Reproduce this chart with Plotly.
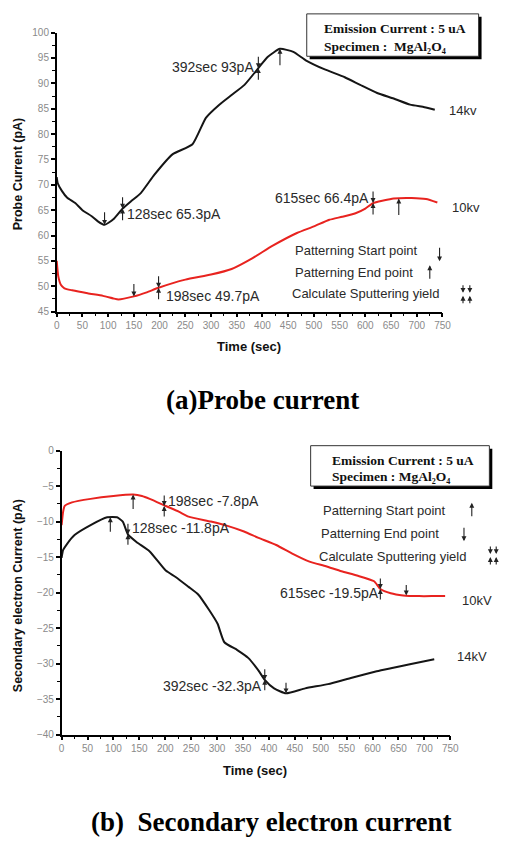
import plotly.graph_objects as go

W, H = 514, 846

# ---------------- data ----------------
# (a) Probe current
t_a14 = [0, 2, 10, 20, 36, 50, 68, 80, 93, 110, 128, 145, 163, 190, 225, 264, 290, 315,
         340, 365, 392, 410, 434, 460, 485, 520, 560, 590, 623, 655, 687, 715, 735]
v_a14 = [71.5, 70.3, 68.8, 67.5, 66.4, 65.0, 63.8, 62.8, 62.1, 63.2, 65.3, 66.8, 68.3, 72.0,
         76.0, 78.0, 83.2, 85.7, 87.7, 89.7, 93.0, 95.2, 96.8, 96.2, 94.5, 92.8, 91.2, 89.7,
         88.1, 87.0, 85.8, 85.3, 84.8]
t_a10 = [0, 3, 8, 15, 30, 60, 90, 110, 120, 150, 175, 198, 250, 300, 340, 380, 420, 467,
         500, 530, 555, 581, 600, 615, 635, 655, 690, 718, 740]
v_a10 = [55.0, 52.0, 50.3, 49.6, 49.2, 48.6, 48.1, 47.6, 47.4, 48.0, 48.8, 49.7, 51.3, 52.3,
         53.4, 55.5, 58.0, 60.5, 61.8, 63.1, 63.7, 64.4, 65.3, 66.4, 66.9, 67.3, 67.4, 67.2, 66.5]

# (b) Secondary electron current
t_b14 = [0, 3, 10, 25, 56, 88, 107, 118, 128, 145, 170, 201, 220, 245, 264, 285, 301, 314,
         339, 360, 380, 392, 410, 433, 470, 514, 560, 608, 640, 672, 719]
v_b14 = [-15.1, -14.0, -13.2, -11.9, -10.5, -9.4, -9.4, -10.0, -11.8, -12.9, -14.2, -16.9,
         -17.8, -19.2, -20.3, -22.5, -24.4, -27.0, -28.1, -29.2, -31.0, -32.3, -33.5, -34.2,
         -33.5, -32.9, -32.0, -31.1, -30.6, -30.1, -29.4]
t_b10 = [0, 3, 6, 20, 56, 100, 138, 155, 170, 201, 226, 245, 288, 320, 352, 380, 414, 445,
         477, 510, 540, 570, 603, 615, 635, 659, 690, 720, 740]
v_b10 = [-10.5, -8.6, -7.8, -7.3, -6.8, -6.4, -6.2, -6.4, -6.8, -7.8, -8.6, -9.3, -10.0,
         -10.6, -11.4, -12.3, -13.3, -14.5, -15.6, -16.3, -17.0, -17.6, -18.4, -19.5, -20.1,
         -20.4, -20.5, -20.5, -20.5]

# marker points: (time, value)
a_start = [(93, 62.1), (150, 48.0)]          # down arrows (patterning start)
a_end = [(434, 96.8), (665, 67.3)]           # up arrows (patterning end)
a_calc = [(128, 65.3), (392, 93.0), (198, 49.7), (615, 66.4)]
b_start = [(94, -9.4), (138, -6.2)]          # up arrows
b_end = [(433, -34.2), (665, -20.4)]         # down arrows
b_calc = [(128, -11.8), (392, -32.3), (198, -7.8), (615, -19.5)]

x_ticks = list(range(0, 751, 50))
ya_ticks = list(range(45, 101, 5))
yb_ticks = list(range(-40, 1, 5))

BLACK = "#151515"
RED = "#e8231f"
SANS = "Arial, Liberation Sans, sans-serif"
SERIF = "Times New Roman, Liberation Serif, serif"


def P(x, y):
    return x / W, 1 - y / H


fig = go.Figure()
LS = dict(width=2, shape="spline", smoothing=0.5)
fig.add_trace(go.Scatter(x=t_a14, y=v_a14, mode="lines", line=dict(color=BLACK, **LS),
                         xaxis="x", yaxis="y", name="14kv"))
fig.add_trace(go.Scatter(x=t_a10, y=v_a10, mode="lines", line=dict(color=RED, **LS),
                         xaxis="x", yaxis="y", name="10kv"))
fig.add_trace(go.Scatter(x=t_b10, y=v_b10, mode="lines", line=dict(color=RED, **LS),
                         xaxis="x2", yaxis="y2", name="10kV"))
fig.add_trace(go.Scatter(x=t_b14, y=v_b14, mode="lines", line=dict(color=BLACK, **LS),
                         xaxis="x2", yaxis="y2", name="14kV"))

ax_common = dict(showline=True, linecolor="black", linewidth=1.5, ticks="outside",
                 ticklen=4, tickwidth=1.5, tickcolor="black", showgrid=False, zeroline=False,
                 mirror=False, tickfont=dict(family=SANS, size=10, color="#8a8a8a"))

fig.update_layout(
    width=W, height=H, margin=dict(l=0, r=0, t=0, b=0),
    paper_bgcolor="white", plot_bgcolor="white", showlegend=False,
    xaxis=dict(domain=[55 / W, 450 / W], range=[0, 750], tickvals=x_ticks, anchor="y",
               minor=dict(ticks="outside", dtick=25, ticklen=2.5, tickwidth=1.2, tickcolor="black"),
               **ax_common),
    yaxis=dict(domain=[1 - 310 / H, 1 - 27 / H], range=[45, 100], tickvals=ya_ticks, anchor="x",
               minor=dict(ticks="outside", dtick=2.5, ticklen=2.5, tickwidth=1.2, tickcolor="black"),
               **ax_common),
    xaxis2=dict(domain=[60 / W, 458 / W], range=[0, 750], tickvals=x_ticks, anchor="y2",
                minor=dict(ticks="outside", dtick=25, ticklen=2.5, tickwidth=1.2, tickcolor="black"),
                **ax_common),
    yaxis2=dict(domain=[1 - 739 / H, 1 - 451 / H], range=[-40, 0], tickvals=yb_ticks, anchor="x2",
                minor=dict(ticks="outside", dtick=2.5, ticklen=2.5, tickwidth=1.2, tickcolor="black"),
                **ax_common),
)

ann = []


def text(x, y, s, size=12.5, color="#2a2a2a", family=SANS, xanchor="left", bold=False, angle=0):
    px, py = P(x, y)
    ann.append(dict(x=px, y=py, xref="paper", yref="paper", text=("<b>%s</b>" % s) if bold else s,
                    showarrow=False, xanchor=xanchor, yanchor="middle", textangle=angle,
                    font=dict(family=family, size=size, color=color)))


def darrow(xr, yr, t, v, direction, length=14):
    # head at the data point, tail above (down arrow) or below (up arrow)
    ann.append(dict(x=t, y=v, xref=xr, yref=yr, ax=0, ay=-length if direction == "down" else length,
                    showarrow=True, arrowhead=2, arrowsize=0.9, arrowwidth=1.1, arrowcolor="#222",
                    standoff=0, text=""))


def parrow(x, y, direction, length=13):
    px, py = P(x, y)
    ann.append(dict(x=px, y=py, xref="paper", yref="paper", ax=0,
                    ay=-length if direction == "down" else length,
                    showarrow=True, arrowhead=2, arrowsize=0.9, arrowwidth=1.1, arrowcolor="#222",
                    standoff=0, text=""))


# curve markers (a)
for t, v in a_start:
    darrow("x", "y", t, v, "down")
for t, v in a_end:
    darrow("x", "y", t, v, "up", 18)
for t, v in a_calc:
    darrow("x", "y", t, v, "down", 13)
    darrow("x", "y", t, v, "up", 13)
# curve markers (b)
for t, v in b_start:
    darrow("x2", "y2", t, v, "up", 16)
for t, v in b_end:
    darrow("x2", "y2", t, v, "down", 12)
for t, v in b_calc:
    darrow("x2", "y2", t, v, "down", 12)
    darrow("x2", "y2", t, v, "up", 12)

NUM = 14
LEG = 13
# labels (a)
text(171, 62, "392sec 93pA", size=NUM)
text(125, 211, "128sec 65.3pA", size=NUM)
text(165, 294, "198sec 49.7pA", size=NUM)
text(276, 195, "615sec 66.4pA", size=NUM)
text(455, 106, "14kv", size=13)
text(458, 204, "10kv", size=13)
text(297, 248, "Patterning Start point", size=LEG)
text(297, 270, "Patterning End point", size=LEG)
text(294, 292, "Calculate Sputtering yield", size=LEG)
parrow(447, 259, "down", 15)
parrow(437, 263, "up", 15)
parrow(471, 291, "down", 9)
parrow(478, 291, "down", 9)
parrow(471, 294, "up", 9)
parrow(478, 294, "up", 9)

# labels (b)
text(167, 502, "198sec -7.8pA", size=NUM)
text(130, 530, "128sec -11.8pA", size=NUM)
text(282, 595, "615sec -19.5pA", size=NUM)
text(162, 690, "392sec -32.3pA", size=NUM)
text(468, 603, "10kV", size=13)
text(463, 660, "14kV", size=13)
text(326, 512, "Patterning Start point", size=LEG)
text(324, 535, "Patterning End point", size=LEG)
text(322, 558, "Calculate Sputtering yield", size=LEG)
parrow(480, 504, "up", 15)
parrow(472, 543, "down", 15)
parrow(499, 556, "down", 9)
parrow(505, 556, "down", 9)
parrow(499, 559, "up", 9)
parrow(505, 559, "up", 9)

# axis titles
text(15, 170, "Probe Current (pA)", size=12.5, color="#111", bold=True, xanchor="center", angle=-90)
text(252, 345, "Time (sec)", size=13, color="#111", bold=True, xanchor="center")
text(15, 598, "Secondary electron Current (pA)", size=12.5, color="#111", bold=True, xanchor="center", angle=-90)
text(258, 775, "Time (sec)", size=13, color="#111", bold=True, xanchor="center")

# panel captions
text(266, 400, "(a)Probe current", size=27, color="black", family=SERIF, bold=True, xanchor="center")
text(274, 828, "(b)  Secondary electron current", size=27, color="black", family=SERIF, bold=True, xanchor="center")

# info boxes
shapes = []


def box(x0, y0, x1, y1, sh=3):
    a0, b0 = P(x0 + sh, y0 + sh)
    a1, b1 = P(x1 + sh, y1 + sh)
    shapes.append(dict(type="rect", xref="paper", yref="paper", x0=a0, x1=a1, y0=b1, y1=b0,
                       fillcolor="black", line=dict(width=0)))
    a0, b0 = P(x0, y0)
    a1, b1 = P(x1, y1)
    shapes.append(dict(type="rect", xref="paper", yref="paper", x0=a0, x1=a1, y0=b1, y1=b0,
                       fillcolor="white", line=dict(color="#333", width=1)))


box(311, 8, 487, 51)
text(327, 23, "Emission Current : 5 uA", size=13.5, color="#111", family=SERIF, bold=True)
text(327, 41, "Specimen :  MgAl₂O₄", size=13.5, color="#111", family=SERIF, bold=True)
box(315, 446, 498, 487)
text(335, 461, "Emission Current : 5 uA", size=13.5, color="#111", family=SERIF, bold=True)
text(335, 477, "Specimen : MgAl₂O₄", size=13.5, color="#111", family=SERIF, bold=True)

fig.update_layout(annotations=ann, shapes=shapes)
fig.write_html("out.html")
